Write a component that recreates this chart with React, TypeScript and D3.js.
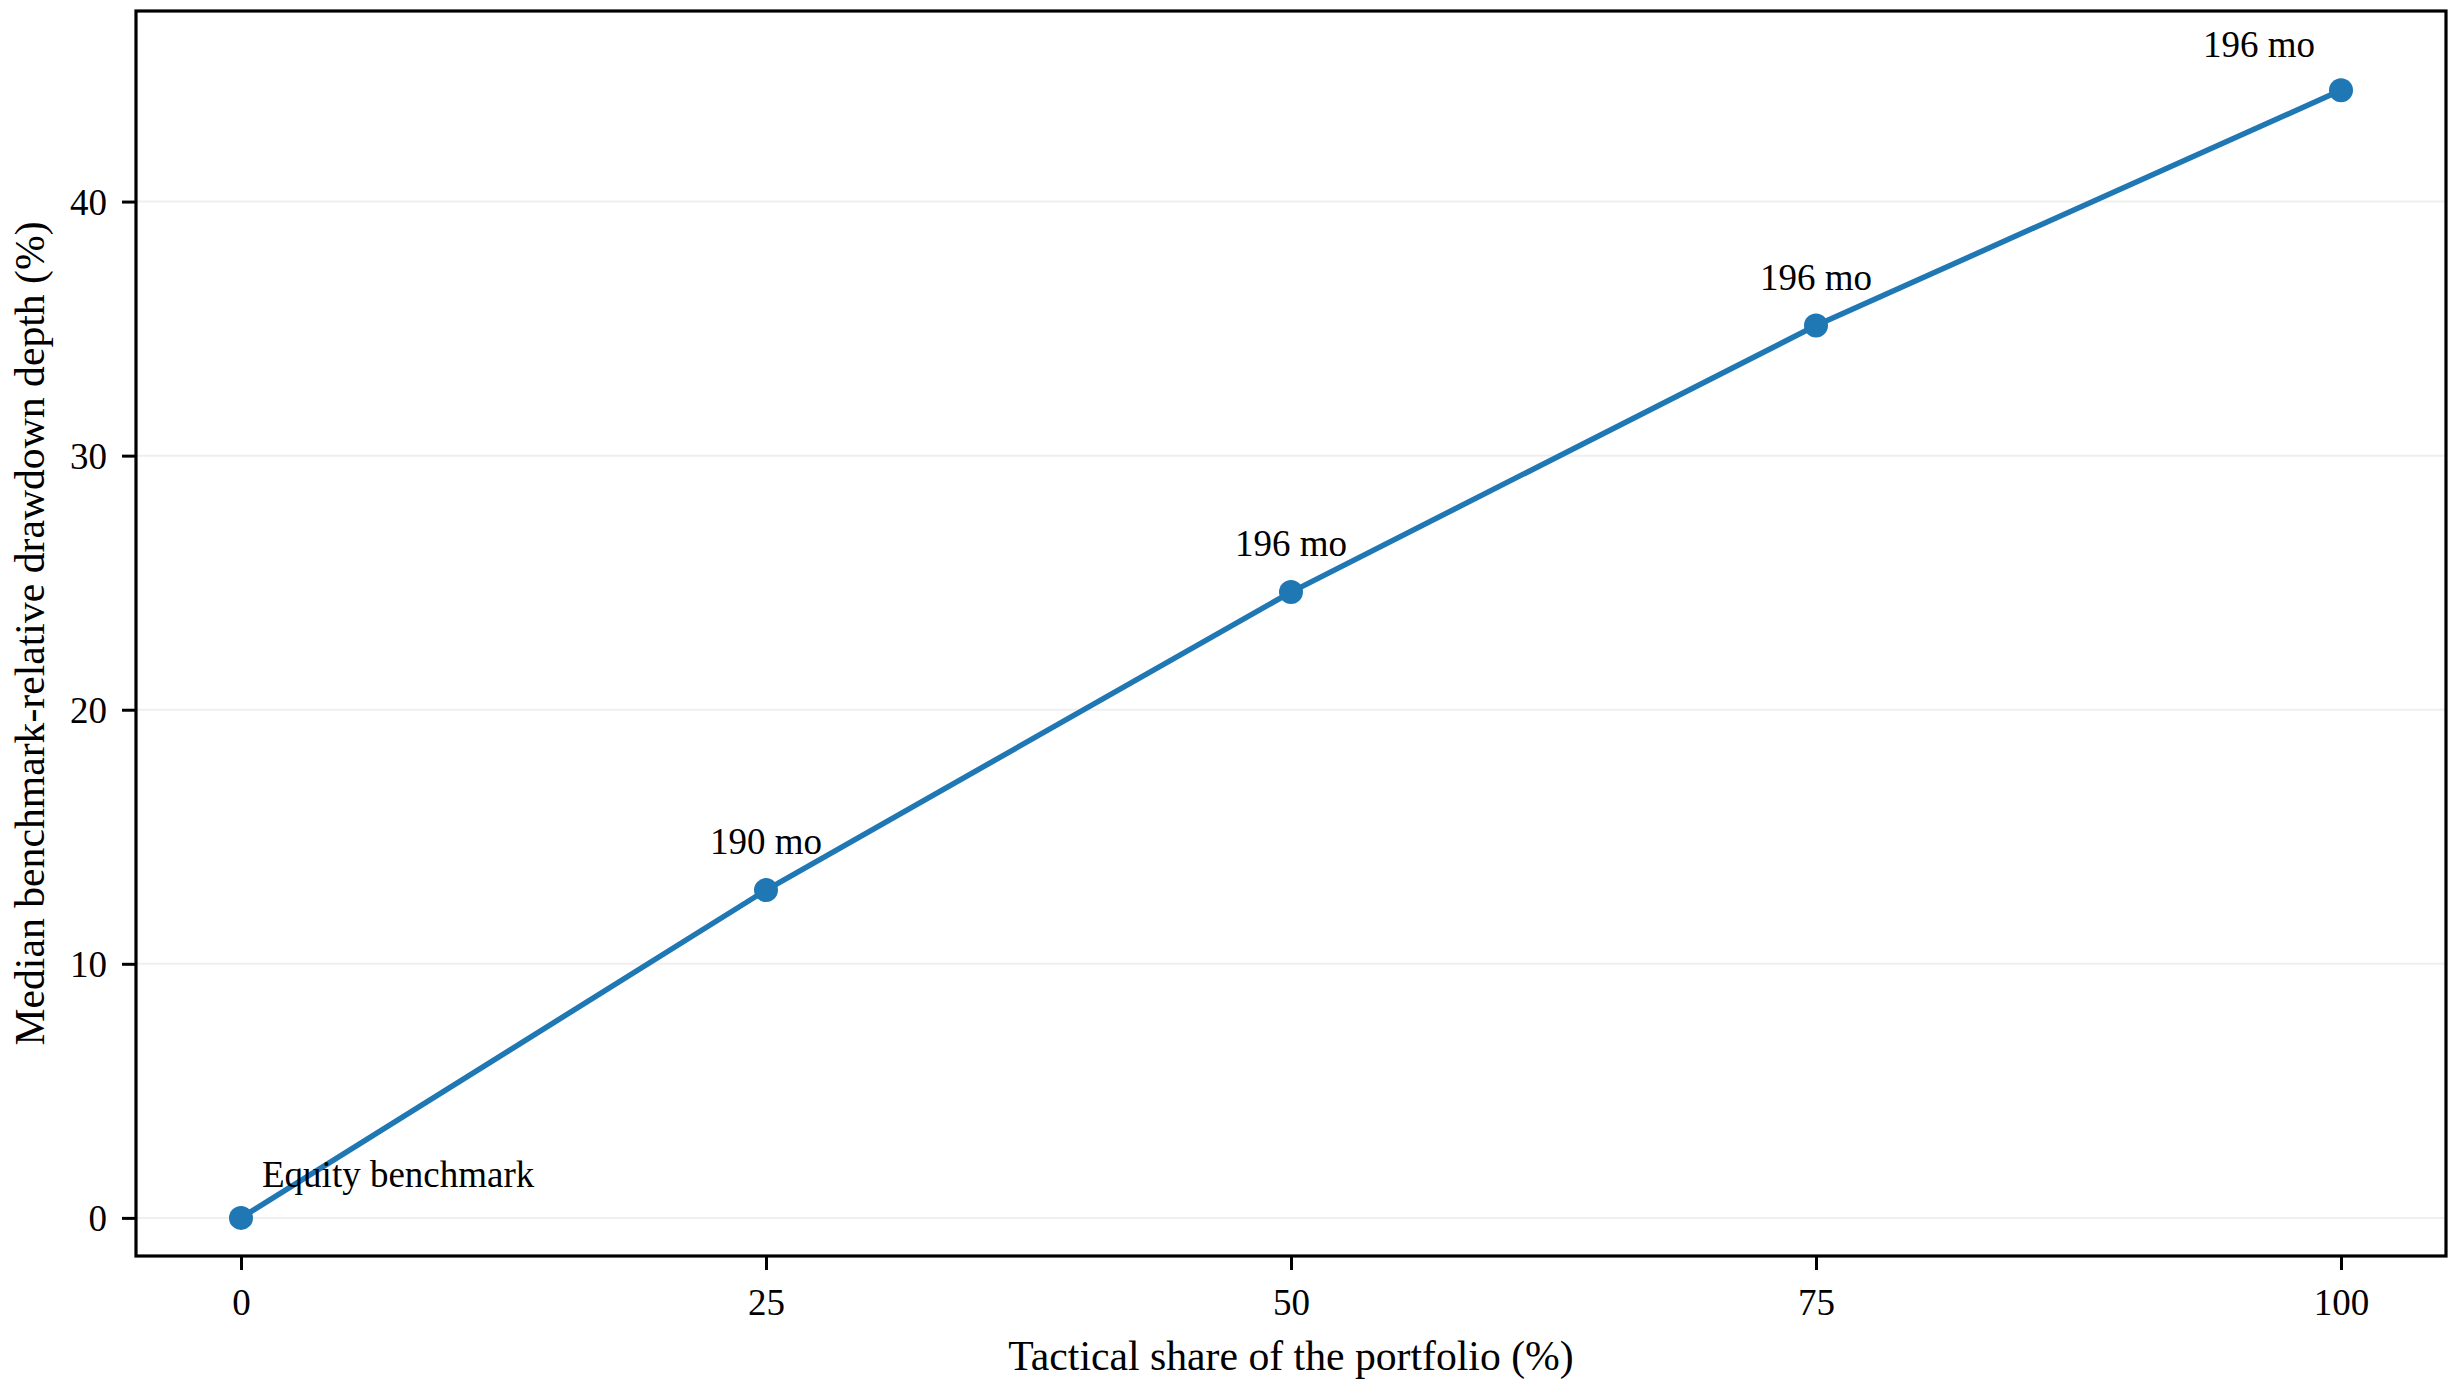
import React, { useRef, useEffect } from 'react';
import * as d3 from 'd3';

// Tactical share vs median drawdown depth
const tacticalShare = [0, 25, 50, 75, 100];
const drawdownDepth = [0, 12.9, 24.63, 35.12, 44.38];
const pointLabels = ['Equity benchmark', '190 mo', '196 mo', '196 mo', '196 mo'];
const xTicks = [0, 25, 50, 75, 100];
const yTicks = [0, 10, 20, 30, 40];

// label placement relative to its point: [dx, dy, anchor]
const labelPlacement: [number, number, string][] = [
  [21, -31, 'start'],
  [0, -36, 'middle'],
  [0, -36, 'middle'],
  [0, -36, 'middle'],
  [-82, -33, 'middle'],
];

const WIDTH = 2457;
const HEIGHT = 1390;
const FONT = '"Liberation Serif", "Times New Roman", serif';
const BLUE = '#1f77b4';

export default function App() {
  const svgRef = useRef<SVGSVGElement>(null);

  useEffect(() => {
    if (!svgRef.current) return;
    const svg = d3.select(svgRef.current);
    svg.selectAll('*').remove();

    const left = 136, right = 2446, top = 11, bottom = 1256;

    const x = d3.scaleLinear().domain([-5, 105]).range([left, right]);
    const y = d3.scaleLinear().domain([-1.5, 47.5]).range([bottom, top]);

    svg.append('rect')
      .attr('width', WIDTH).attr('height', HEIGHT).attr('fill', '#ffffff');

    // horizontal grid
    svg.append('g')
      .selectAll('line')
      .data(yTicks)
      .enter().append('line')
      .attr('x1', left).attr('x2', right)
      .attr('y1', d => y(d)).attr('y2', d => y(d))
      .attr('stroke', '#efefef')
      .attr('stroke-width', 2);

    // x axis
    const xAxis = svg.append('g')
      .attr('transform', `translate(0,${bottom})`)
      .call(d3.axisBottom(x).tickValues(xTicks).tickSize(14).tickPadding(18).tickSizeOuter(0));
    xAxis.select('.domain').remove();
    xAxis.selectAll('line').attr('stroke', '#000').attr('stroke-width', 3);
    xAxis.selectAll('text')
      .attr('font-family', FONT).attr('font-size', 37).attr('fill', '#000')
      .attr('dy', '0.72em');

    // y axis
    const yAxis = svg.append('g')
      .attr('transform', `translate(${left},0)`)
      .call(d3.axisLeft(y).tickValues(yTicks).tickSize(14).tickPadding(15).tickSizeOuter(0));
    yAxis.select('.domain').remove();
    yAxis.selectAll('line').attr('stroke', '#000').attr('stroke-width', 3);
    yAxis.selectAll('text')
      .attr('font-family', FONT).attr('font-size', 37).attr('fill', '#000')
      .attr('dy', '0.34em');

    // line + markers
    const pts = tacticalShare.map((v, i) => [v, drawdownDepth[i]] as [number, number]);
    const line = d3.line<[number, number]>().x(d => x(d[0])).y(d => y(d[1]));

    svg.append('path')
      .datum(pts)
      .attr('d', line)
      .attr('fill', 'none')
      .attr('stroke', BLUE)
      .attr('stroke-width', 5.5)
      .attr('stroke-linejoin', 'round');

    svg.append('g')
      .selectAll('circle')
      .data(pts)
      .enter().append('circle')
      .attr('cx', d => x(d[0]))
      .attr('cy', d => y(d[1]))
      .attr('r', 12)
      .attr('fill', BLUE);

    // point labels
    svg.append('g')
      .selectAll('text')
      .data(pts)
      .enter().append('text')
      .attr('x', (d, i) => x(d[0]) + labelPlacement[i][0])
      .attr('y', (d, i) => y(d[1]) + labelPlacement[i][1])
      .attr('text-anchor', (_, i) => labelPlacement[i][2])
      .attr('font-family', FONT)
      .attr('font-size', 37)
      .attr('fill', '#000')
      .text((_, i) => pointLabels[i]);

    // frame
    svg.append('rect')
      .attr('x', left).attr('y', top)
      .attr('width', right - left).attr('height', bottom - top)
      .attr('fill', 'none')
      .attr('stroke', '#000')
      .attr('stroke-width', 3.2);

    // axis titles
    svg.append('text')
      .attr('x', (left + right) / 2)
      .attr('y', 1370)
      .attr('text-anchor', 'middle')
      .attr('font-family', FONT)
      .attr('font-size', 41.7)
      .attr('fill', '#000')
      .text('Tactical share of the portfolio (%)');

    svg.append('text')
      .attr('transform', `translate(44,${(top + bottom) / 2}) rotate(-90)`)
      .attr('text-anchor', 'middle')
      .attr('font-family', FONT)
      .attr('font-size', 41.7)
      .attr('fill', '#000')
      .text('Median benchmark-relative drawdown depth (%)');
  }, []);

  return (
    <div style={{ position: 'absolute', left: 0, top: 0 }}>
      <svg ref={svgRef} width={WIDTH} height={HEIGHT} viewBox={`0 0 ${WIDTH} ${HEIGHT}`} />
    </div>
  );
}
